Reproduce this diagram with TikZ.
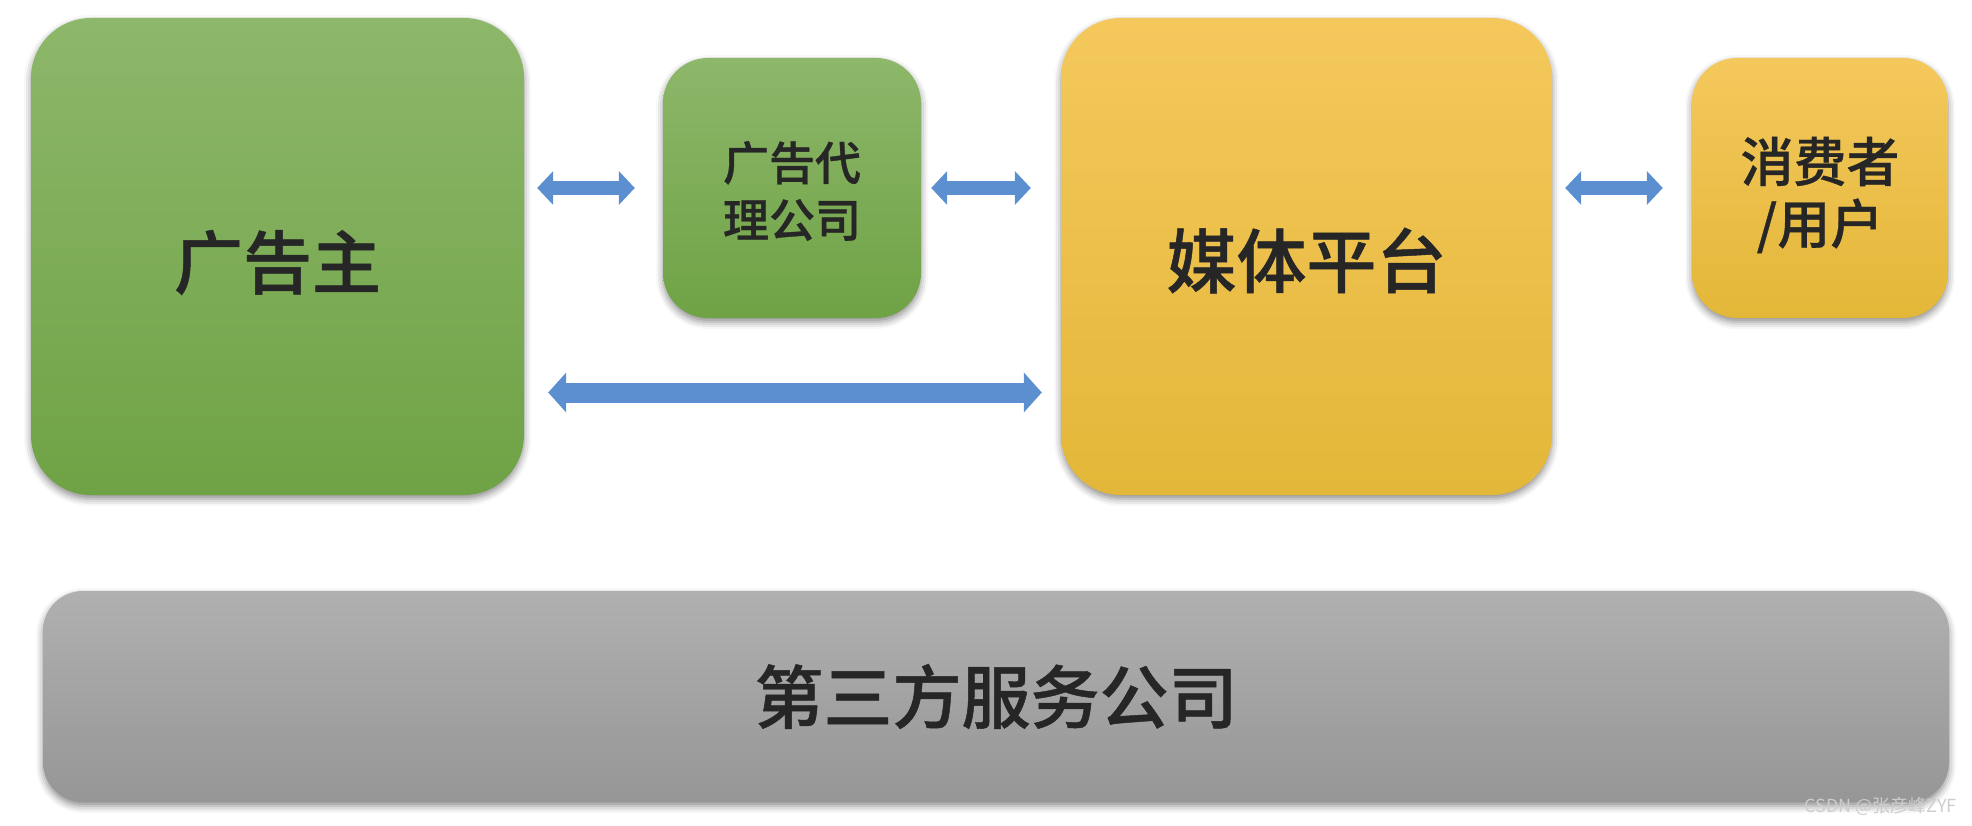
\documentclass[tikz,border=0pt]{standalone}
\usepackage{fontspec}
\newfontfamily\cjk{Noto Sans CJK SC}
\newfontfamily\cjkm{Noto Sans CJK SC Medium}[BoldFont={Noto Sans CJK SC Medium},BoldFeatures={FakeBold=0.7}]
\usetikzlibrary{shadows.blur,arrows.meta}
\definecolor{gtop}{RGB}{141,183,106}
\definecolor{gbot}{RGB}{111,162,69}
\definecolor{ytop}{RGB}{244,200,92}
\definecolor{ybot}{RGB}{227,183,56}
\definecolor{ktop}{RGB}{176,176,176}
\definecolor{kbot}{RGB}{150,150,150}
\definecolor{arrowblue}{RGB}{91,143,208}
\definecolor{txt}{RGB}{38,38,38}
\definecolor{wm}{RGB}{205,205,205}
\newcommand{\lowr}[2]{\raisebox{-#1}[\height][\depth]{#2}}
\tikzset{
  box/.style={inner sep=0pt, align=center, text=txt,
    blur shadow={shadow xshift=0pt, shadow yshift=-4pt, shadow blur radius=7pt, shadow opacity=45}},
  greenbox/.style={box, top color=gtop, bottom color=gbot},
  yellowbox/.style={box, top color=ytop, bottom color=ybot},
  graybox/.style={box, top color=ktop, bottom color=kbot},
  arr/.style={line width=14pt, draw=arrowblue, {Triangle[width=33pt,length=16pt]}-{Triangle[width=33pt,length=16pt]}},
  longarr/.style={line width=20pt, draw=arrowblue, {Triangle[width=39pt,length=18pt]}-{Triangle[width=39pt,length=18pt]}}
}
\begin{document}
\begin{tikzpicture}[x=1pt,y=-1pt]
\useasboundingbox (0,0) rectangle (1972,826);
\node[greenbox, minimum width=493pt, minimum height=477pt, rounded corners=60pt,
  font=\cjkm\bfseries\fontsize{69pt}{80pt}\selectfont] (adv) at (277.5,256.5) {\lowr{6pt}{广告主}};
\node[greenbox, minimum width=258pt, minimum height=260pt, rounded corners=45pt,
  font=\cjkm\bfseries\fontsize{46pt}{57pt}\selectfont] (agency) at (792,188) {\lowr{3pt}{广告代}\\\lowr{3pt}{理公司}};
\node[yellowbox, minimum width=491pt, minimum height=477pt, rounded corners=60pt,
  font=\cjkm\bfseries\fontsize{70pt}{80pt}\selectfont] (media) at (1306.5,256.5) {\lowr{4pt}{媒体平台}};
\node[yellowbox, minimum width=256pt, minimum height=260pt, rounded corners=45pt,
  font=\cjkm\bfseries\fontsize{53pt}{62pt}\selectfont] (user) at (1820,188) {\lowr{7pt}{消费者}\\\lowr{7pt}{/用户}};
\node[graybox, minimum width=1906pt, minimum height=211pt, rounded corners=40pt,
  font=\cjkm\bfseries\fontsize{69pt}{80pt}\selectfont] (third) at (996,696.5) {第三方服务公司};
\draw[arr] ([xshift=13pt]adv.east |- agency.west) -- ([xshift=-28pt]agency.west);
\draw[arr] ([xshift=10pt]agency.east) -- ([xshift=-30pt]media.west |- agency.east);
\draw[arr] ([xshift=13pt]media.east |- user.west) -- ([xshift=-29pt]user.west);
\draw[longarr] ([xshift=24pt,yshift=-136pt]adv.east) -- ([xshift=-19pt,yshift=-136pt]media.west);
\node[anchor=east, text=wm, font=\cjk\fontsize{18pt}{21pt}\selectfont, inner sep=0pt] (mark) at (1957,806) {CSDN @张彦峰ZYF};
\end{tikzpicture}
\end{document}
